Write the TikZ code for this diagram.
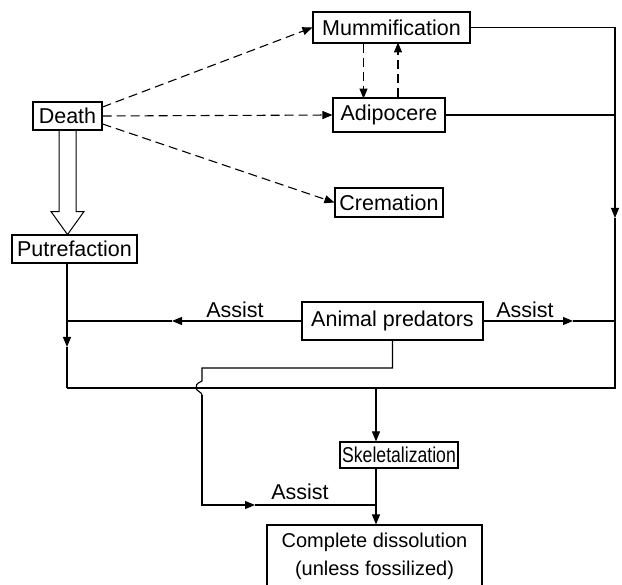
\documentclass[tikz,border=0pt]{standalone}
\usepackage{fontspec}
\setmainfont{Liberation Sans}
\usepackage{tikz}
\usetikzlibrary{calc, arrows.meta}

\begin{document}
\begin{tikzpicture}[x=1pt, y=-1pt, line width=1.1pt,
	box/.style={draw, inner sep=0pt, font=\fontsize{21.5}{28}\selectfont},
	lbl/.style={font=\fontsize{21.5}{28}\selectfont},
	arr/.style={-{Triangle[length=10pt,width=8pt]}},
	dsh/.style={arr, dash pattern=on 9pt off 5pt}]
	\useasboundingbox (0,0) rectangle (622,585);

	% --- Boxes ---
	\node[box, minimum width=69pt, minimum height=28pt] (death) at (67.5,116) {Death};
	\node[box, minimum width=125pt, minimum height=28pt] (putre) at (74.5,249) {Putrefaction};
	\node[box, minimum width=157pt, minimum height=31pt] (mumm) at (391.5,27.5) {Mummification};
	\node[box, minimum width=112pt, minimum height=34pt] (adip) at (389,115) {Adipocere};
	\node[box, minimum width=108pt, minimum height=29pt] (crem) at (389,202.5) {Cremation};
	\node[box, minimum width=181pt, minimum height=38pt] (pred) at (392.5,321) {Animal predators};
	\node[box, minimum width=118pt, minimum height=26pt] (skel) at (399,455)
		{\scalebox{0.82}[1]{Skeletalization}};
	\node[box, minimum width=215pt, minimum height=62pt, align=center,
		font=\fontsize{20}{28}\selectfont] (diss) at (374.5,556)
		{Complete dissolution\\(unless fossilized)};

	% --- Labels ---
	\node[lbl] (asl) at (235,310) {Assist};
	\node[lbl] (asr) at (525,310) {Assist};
	\node[lbl] (asb) at (300,492) {Assist};

	% --- Death to putrefaction (hollow arrow) ---
	\draw[line width=1pt] ($(death.south)+(-8.5,0)$) -- ++(0,81) -- ++(-8,0) -- ++(16.5,23)
		-- ++(16.5,-23) -- ++(-8,0) -- ++(0,-81);

	% --- Dashed routes ---
	\draw[dsh] ($(death.east)+(0,-9)$) -- (mumm.west);
	\draw[dsh] (death.east) -- (adip.west);
	\draw[dsh] ($(death.east)+(0,8)$) -- (crem.west);
	\draw[dsh] ($(mumm.south)+(-28,0)$) -- ++(0,55);
	\draw[dsh] ($(adip.north)+(9,0)$) -- ++(0,-55);

	% --- Collecting lines ---
	\coordinate (ra) at (615,218);
	\coordinate (rb) at (615,388);
	\coordinate (la) at (67,347);
	\coordinate (lb) at (67,388);
	\draw[arr] (mumm.east) -| (ra);
	\draw (adip.east) -- (adip.east -| ra);
	\draw (ra) -- (rb) -- (lb);
	\draw[arr] (putre.south -| la) -- (la);
	\draw (la) -- (lb);

	% --- Animal predators ---
	\coordinate (pl) at (172,321);
	\coordinate (pr) at (573,321);
	\draw[arr] (pred.west) -- (pl);
	\draw (pl) -- (pl -| la);
	\draw[arr] (pred.east) -- (pr);
	\draw (pr) -- (pr -| ra);

	\coordinate (j1) at (202,368);
	\coordinate (j2) at (202,381);
	\coordinate (j3) at (202,395);
	\coordinate (ba) at (255,505);
	\coordinate (sk) at (376,388);
	\draw (pred.south) |- (j1) -- (j2) .. controls (196,384) and (196,385) .. (196,388)
		.. controls (196,391) and (202,392) .. (j3);
	\draw[arr] (j3) |- (ba);
	\draw (ba) -- (sk |- ba);

	% --- Skeletalization ---
	\draw[arr] (sk) -- (sk |- skel.north);
	\draw[arr] (sk |- skel.south) -- (sk |- diss.north);
\end{tikzpicture}
\end{document}
